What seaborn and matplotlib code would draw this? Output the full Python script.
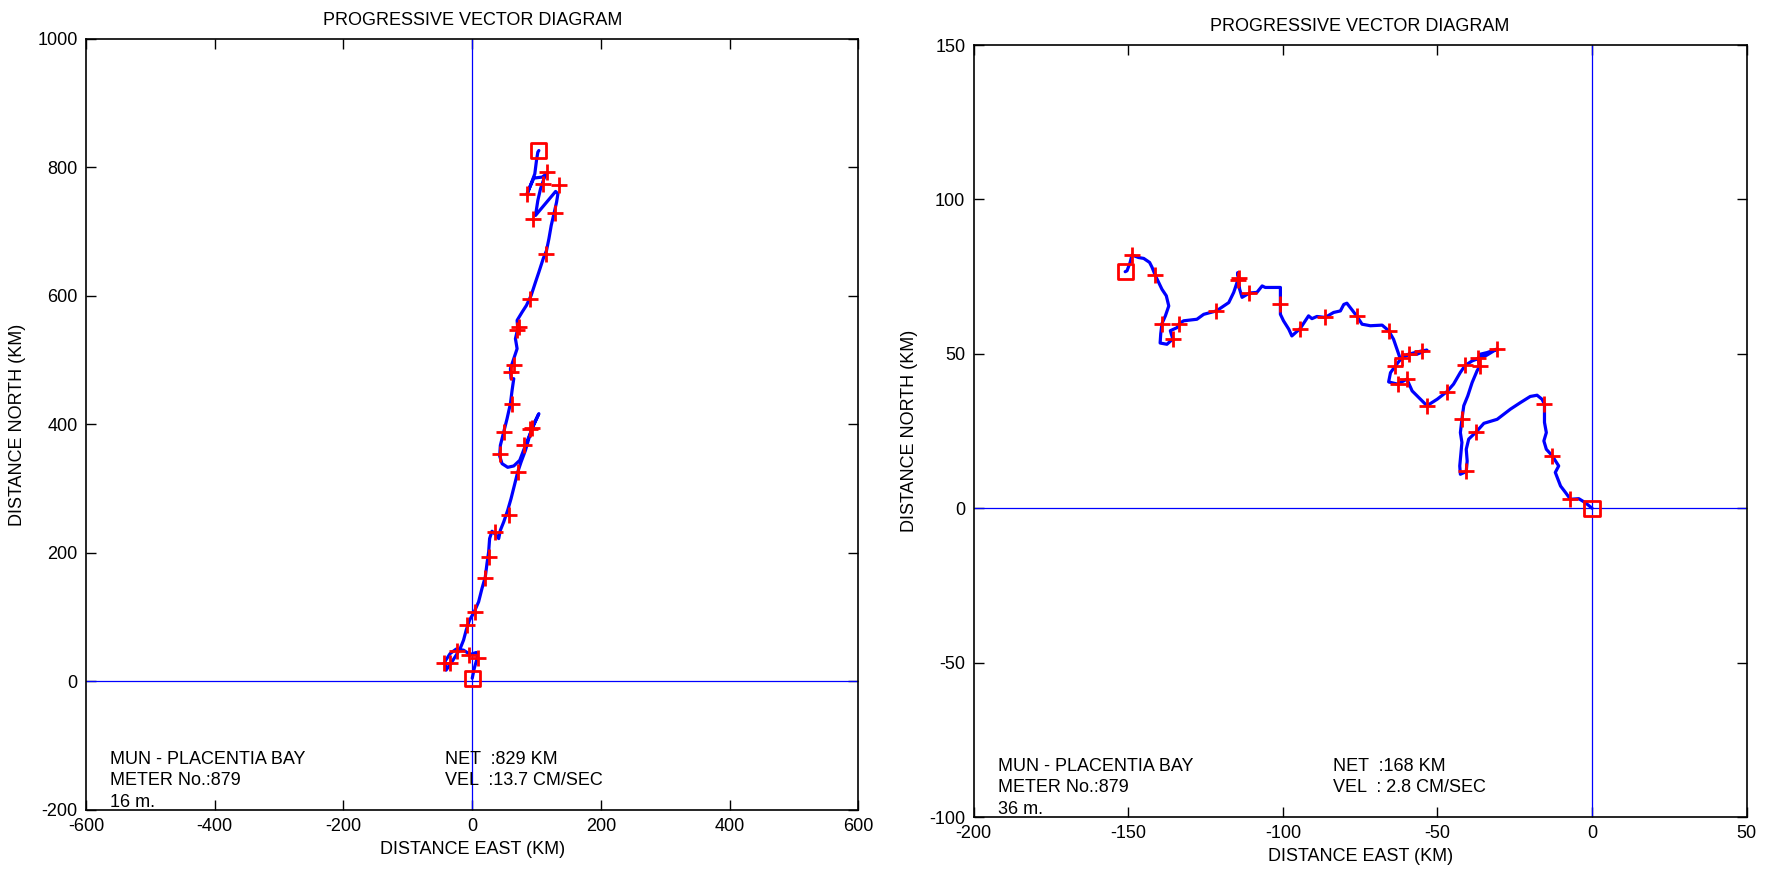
"""Progressive vector diagrams for two Placentia Bay current meters."""
import matplotlib
matplotlib.use("Agg")
import matplotlib.pyplot as plt
import pandas as pd
import seaborn as sns

sns.set_theme(style="ticks")
plt.rcParams["font.family"] = ["Liberation Sans Narrow", "Liberation Sans", "DejaVu Sans"]
plt.rcParams["axes.unicode_minus"] = False
plt.rcParams["text.color"] = "black"
plt.rcParams["axes.labelcolor"] = "black"

# --- Meter 879, 16 m : track (km east, km north) ---
east_16 = [0, 3.1, 8.3, 6.2, -3.1, -13.5, -25, -34.3, -42.1, -40.6, -34.3, -26.5,
           -18.7, -13.5, -9.4, -4.2, 3.1, 9.9, 15.1, 20.3, 22.9, 25.5, 27, 30.7,
           37.4, 41.1, 43.7, 48.9, 55.1, 60.3, 65.5, 70.7, 75.9, 82.7, 87.9, 94.6,
           103.5, 93.1, 82.7, 73.8, 64.5, 55.1, 46.3, 42.6, 43.7, 48.9, 54.1, 59.3,
           61.9, 64.5, 60.3, 59.3, 64.5, 69.7, 67.1, 70.7, 69.7, 77.5, 84.2, 91.5,
           98.3, 103.5, 110.2, 115.4, 119.1, 122.7, 126.9, 131, 133.1, 129.5, 98.3,
           101.9, 106.1, 111.3, 115.4, 108.7, 95.7, 89.4, 85.3, 90.5, 97.2, 99.8,
           101.9, 103.5]
north_16 = [5, 20.2, 38.4, 45.1, 42, 48.7, 50.3, 43.5, 31.6, 17.6, 26.4, 38.4,
            51.3, 64.3, 79.8, 95.4, 108.3, 123.9, 144.6, 162.8, 183.5, 201.7, 222.4,
            233.8, 227.6, 222.4, 235.4, 248.3, 266.5, 284.6, 305.3, 326.1, 341.6,
            359.8, 377.9, 398.7, 416.8, 393.5, 367.5, 344.2, 335.4, 333.3, 339, 351,
            367.5, 388.3, 409, 432.3, 453.1, 471.2, 471.2, 486.8, 502.3, 517.9,
            533.4, 549, 562, 574.9, 585.3, 600.8, 621.6, 637.1, 657.9, 670.8, 689,
            709.7, 727.8, 746, 759, 762.6, 725.3, 748.6, 766.8, 782.3, 790.1, 785,
            783.4, 769.4, 759, 772, 790.1, 810.8, 823.8, 826.3]
# daily marks
tick_e_16 = [-43.7, -34.3, -23.9, -5.7, 8.3, -8.3, 4.7, 20.3, 25.5, 34.8, 56.7,
             70.7, 81.1, 89.4, 93.1, 42.6, 48.9, 61.9, 60.3, 64.5, 69.7, 72.3,
             90.5, 113.9, 128, 134.7, 94.6, 110.2, 116.5, 85.3]
tick_n_16 = [29.5, 29.5, 47.2, 41, 35.8, 88.6, 108.3, 161.2, 193.9, 232.8, 259.7,
             326, 367.5, 393.5, 394.5, 354.6, 388.3, 432.3, 481.6, 492, 546.4,
             551.6, 595.6, 665.6, 729.4, 771.9, 720, 774.5, 792.6, 759]

# --- Meter 879, 36 m ---
east_36 = [0, -2.2, -4.3, -7, -8.6, -10.2, -11.9, -10.8, -12.9, -14.8, -15.6,
           -14.8, -15.4, -15.4, -16.2, -17.8, -20, -23.2, -26.4, -30.7, -35,
           -37.4, -39.9, -40.7, -40.4, -40.7, -42.6, -42.8, -42.1, -42.6, -42.1,
           -41.5, -40.2, -38.8, -37.2, -36.3, -36.9, -36.1, -34, -30.9, -34,
           -38.8, -41, -42.6, -44.8, -46.9, -50.1, -53.4, -55.5, -58.2, -59.9,
           -62.9, -65.8, -65.2, -63.6, -61.5, -59.3, -54.9, -53.4, -56.6, -59.3,
           -62, -63.1, -64.2, -65.8, -67.9, -71.7, -74.4, -76, -79.3, -80.3,
           -81.4, -83.6, -86.3, -89, -90.6, -91.7, -94.4, -97.1, -98.1, -99.8,
           -100.8, -100.8, -100.8, -103, -105.7, -106.7, -108.4, -110.8, -113.2,
           -114, -114.6, -114.3, -115.9, -117.5, -121.5, -125.6, -127.8, -132.1,
           -133.5, -134.2, -136.4, -135.6, -137.5, -139.7, -139.5, -139.1, -138,
           -136.9, -137.7, -139.1, -141.3, -142.3, -143.1, -145, -146.7, -148.8,
           -149.4, -150.4, -151]
north_36 = [0, 1.8, 3.1, 2.9, 5.1, 7.2, 11.6, 13.7, 17, 19.1, 21.8, 24.5, 27.8,
            33.7, 35.3, 36.6, 36.2, 34.2, 32.1, 28.8, 27.5, 24.8, 22.4, 19.1,
            15.3, 11.9, 11, 13.7, 21.3, 24.5, 28.8, 33.2, 36.4, 40.7, 44.5, 46.1,
            48.5, 49.9, 50.4, 51.5, 49.6, 47.7, 46.3, 44, 40.2, 37.8, 35.3, 33.2,
            35.3, 38, 41.8, 40.2, 40.9, 43.9, 46.1, 48.8, 49.9, 51, 51.2, 49.9,
            49.9, 48.3, 51.5, 54.7, 57.5, 59.3, 59.1, 59.6, 62.1, 66.4, 66, 63.9,
            63.4, 61.8, 62.1, 61.4, 62.3, 58.2, 55.8, 58, 60.7, 62.8, 66.1, 71.5,
            71.5, 71.5, 72, 69.9, 69.7, 68.3, 71, 76.3, 74.7, 69.9, 66.6, 63.9,
            62.8, 61.2, 60.7, 59.8, 58.5, 57.5, 54.8, 53.1, 53.5, 56.5, 59.8,
            62.3, 65.5, 68.8, 70.9, 75.5, 78, 79.6, 80.9, 81.2, 82, 79.6, 76.9,
            76.6]
tick_e_36 = [-7, -12.9, -15.4, -37.4, -40.7, -42.1, -36.3, -36.9, -30.9, -41,
             -46.9, -53.4, -59.9, -62.9, -63.6, -61.5, -59.3, -54.9, -65.8, -76,
             -86.3, -94.4, -100.8, -110.8, -114.3, -114.6, -121.5, -133.5,
             -135.6, -139.1, -141.3, -148.8]
tick_n_36 = [2.9, 17, 33.7, 24.8, 11.9, 28.8, 46.1, 48.5, 51.5, 46.3, 37.8, 33.2,
             41.8, 40.2, 46.1, 48.8, 49.9, 51, 57.5, 62.1, 61.8, 58.2, 66.1, 69.7,
             74.7, 73.8, 63.9, 59.8, 54.8, 59.8, 75.5, 82]

panels = [
    dict(east=east_16, north=north_16, te=tick_e_16, tn=tick_n_16,
         xlim=(-600, 600), ylim=(-200, 1000), xticks=range(-600, 601, 200),
         yticks=range(-200, 1001, 200), depth="16 m.",
         net="NET  :829 KM", vel="VEL  :13.7 CM/SEC",
         pos=[0.0486, 0.0722, 0.4367, 0.8832]),
    dict(east=east_36, north=north_36, te=tick_e_36, tn=tick_n_36,
         xlim=(-200, 50), ylim=(-100, 150), xticks=range(-200, 51, 50),
         yticks=range(-100, 151, 50), depth="36 m.",
         net="NET  :168 KM", vel="VEL  : 2.8 CM/SEC",
         pos=[0.5504, 0.0641, 0.4370, 0.8843]),
]

fig = plt.figure(figsize=(17.69, 8.73), dpi=100)
fs = 13

for p in panels:
    ax = fig.add_axes(p["pos"])
    track = pd.DataFrame({"east": p["east"], "north": p["north"]})
    marks = pd.DataFrame({"east": p["te"], "north": p["tn"]})

    ax.axhline(0, color="#0000ff", lw=0.9, zorder=1)
    ax.axvline(0, color="#0000ff", lw=0.9, zorder=1)
    sns.lineplot(data=track, x="east", y="north", sort=False, estimator=None,
                 color="#0000ff", lw=2.3, ax=ax, zorder=2)
    sns.scatterplot(data=marks, x="east", y="north", marker="+", s=120,
                    color="#ff0000", linewidth=2.0, ax=ax, zorder=3)
    ends = track.iloc[[0, -1]]
    ax.scatter(ends.east, ends.north, marker="s", s=120, facecolors="none",
               edgecolors="#ff0000", linewidths=2.0, zorder=4)

    ax.set_xlim(*p["xlim"])
    ax.set_ylim(*p["ylim"])
    ax.set_xticks(list(p["xticks"]))
    ax.set_yticks(list(p["yticks"]))
    ax.tick_params(direction="in", length=7, width=1, top=True, right=True,
                   labelsize=fs, pad=6, colors="black")
    for s in ax.spines.values():
        s.set_visible(True)
        s.set_color("black")
        s.set_linewidth(1.2)

    ax.set_title("PROGRESSIVE VECTOR DIAGRAM", fontsize=fs, pad=10, color="black")
    ax.set_xlabel("DISTANCE EAST (KM)", fontsize=fs, labelpad=4)
    ax.set_ylabel("DISTANCE NORTH (KM)", fontsize=fs, labelpad=8)

    left = ["MUN - PLACENTIA BAY", "METER No.:879", p["depth"]]
    for i, line in enumerate(left):
        ax.text(0.031, 0.066 - 0.028 * i, line, transform=ax.transAxes,
                fontsize=fs, va="center", ha="left")
    for i, line in enumerate([p["net"], p["vel"]]):
        ax.text(0.465, 0.066 - 0.028 * i, line, transform=ax.transAxes,
                fontsize=fs, va="center", ha="left")

fig.savefig("out.png", dpi=100, facecolor="white")
